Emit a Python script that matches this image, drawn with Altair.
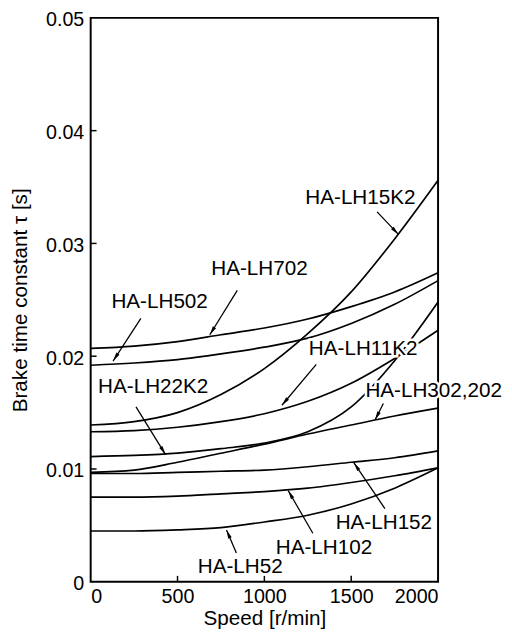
import math
import altair as alt
import pandas as pd

# ---- data ----
speeds = [0, 250, 500, 750, 1000, 1250, 1500, 1750, 2000]
tau_LH52 = [0.0045, 0.0045, 0.0046, 0.0048, 0.0053, 0.0059, 0.0069, 0.0083, 0.0101]
tau_LH102 = [0.0075, 0.0075, 0.0076, 0.0078, 0.0080, 0.0083, 0.0088, 0.0094, 0.0101]
tau_LH152 = [0.0096, 0.0096, 0.0097, 0.0098, 0.0099, 0.0102, 0.0106, 0.0110, 0.0116]
tau_LH302_202 = [0.0097, 0.0099, 0.0106, 0.0114, 0.0122, 0.0131, 0.0139, 0.0147, 0.0154]
tau_LH22K2 = [0.0111, 0.0112, 0.0114, 0.0118, 0.0123, 0.0133, 0.0155, 0.0196, 0.0248]
tau_LH11K2 = [0.0133, 0.0134, 0.0137, 0.0142, 0.0149, 0.0160, 0.0176, 0.0198, 0.0223]
tau_LH15K2 = [0.0139, 0.0142, 0.0150, 0.0166, 0.0189, 0.0220, 0.0257, 0.0304, 0.0356]
tau_LH502 = [0.0192, 0.0194, 0.0197, 0.0202, 0.0208, 0.0216, 0.0229, 0.0246, 0.0267]
tau_LH702 = [0.0207, 0.0209, 0.0213, 0.0219, 0.0225, 0.0233, 0.0244, 0.0257, 0.0274]

series = {
    "HA-LH52": tau_LH52,
    "HA-LH102": tau_LH102,
    "HA-LH152": tau_LH152,
    "HA-LH302,202": tau_LH302_202,
    "HA-LH22K2": tau_LH22K2,
    "HA-LH11K2": tau_LH11K2,
    "HA-LH15K2": tau_LH15K2,
    "HA-LH502": tau_LH502,
    "HA-LH702": tau_LH702,
}

x_ticks = [0, 500, 1000, 1500, 2000]
y_ticks = [0, 0.01, 0.02, 0.03, 0.04, 0.05]

# label annotations: text centre and arrow (start -> tip), in data units
label_names = ["HA-LH15K2", "HA-LH702", "HA-LH502", "HA-LH22K2", "HA-LH11K2",
               "HA-LH302,202", "HA-LH152", "HA-LH102", "HA-LH52"]
label_x = [1553, 972, 397, 360, 1569, 1975, 1688, 1343, 861]
label_y = [0.0340, 0.02775, 0.02478, 0.01723, 0.0206, 0.01689, 0.0052, 0.00301, 0.00127]
arrow_x0 = [1649, 844, 289, 261, 1299, 1685, 1694, 1279, 839]
arrow_y0 = [0.0328, 0.02583, 0.02336, 0.0155, 0.01928, 0.0158, 0.00649, 0.0043, 0.00256]
arrow_x1 = [1772, 686, 129, 431, 1101, 1637, 1515, 1137, 782]
arrow_y1 = [0.0308, 0.0219, 0.01957, 0.01128, 0.01565, 0.01434, 0.01056, 0.00809, 0.0046]

# ---- build tables ----
rows = []
for name, vals in series.items():
    for s, v in zip(speeds, vals):
        rows.append({"model": name, "speed": s, "tau": v})
df = pd.DataFrame(rows)

W, H = 353, 573
XMAX, YMAX = 2000.0, 0.05
HEAD_LEN = 9.0

ann = []
for i, name in enumerate(label_names):
    dxp = (arrow_x1[i] - arrow_x0[i]) * W / XMAX
    dyp = -(arrow_y1[i] - arrow_y0[i]) * H / YMAX
    length = math.hypot(dxp, dyp)
    ang = math.degrees(math.atan2(dxp, -dyp)) % 360
    f = (HEAD_LEN / 2) / length
    ann.append({
        "name": name, "lx": label_x[i], "ly": label_y[i],
        "x0": arrow_x0[i], "y0": arrow_y0[i], "x1": arrow_x1[i], "y1": arrow_y1[i],
        "hx": arrow_x1[i] - f * (arrow_x1[i] - arrow_x0[i]),
        "hy": arrow_y1[i] - f * (arrow_y1[i] - arrow_y0[i]),
        "ang": ang,
    })
ann_df = pd.DataFrame(ann)

FONT = "Liberation Sans"
FS_TICK = 20
FS_TEXT = 21

xs = alt.Scale(domain=[0, 2000], nice=False)
ys = alt.Scale(domain=[0, 0.05], nice=False)
x_axis = alt.Axis(values=x_ticks, format="d", title="Speed [r/min]", labelPadding=5,
                  titleY=26, titleBaseline="top")
y_axis = alt.Axis(values=y_ticks, format="~g", title="Brake time constant τ [s]",
                  labelPadding=7, labelOffset=2, titleX=-71, titleY=H / 2,
                  titleBaseline="middle")


def X(field):
    return alt.X(field, scale=xs, axis=x_axis, title="Speed [r/min]")


def Y(field):
    return alt.Y(field, scale=ys, axis=y_axis, title="Brake time constant τ [s]")


lines = alt.Chart(df).mark_line(color="black", strokeWidth=1.7, interpolate="monotone").encode(
    x=X("speed:Q"), y=Y("tau:Q"), detail="model:N")

xtick_df = pd.DataFrame({"t": x_ticks[1:-1]})
ytick_df = pd.DataFrame({"t": y_ticks[1:-1]})
xt = alt.Chart(xtick_df).mark_rule(color="black", strokeWidth=1.5).encode(
    x=X("t:Q"), y=alt.value(H), y2=alt.value(H - 6))
yt = alt.Chart(ytick_df).mark_rule(color="black", strokeWidth=1.5).encode(
    y=Y("t:Q"), x=alt.value(0), x2=alt.value(6))

shafts = alt.Chart(ann_df).mark_rule(color="black", strokeWidth=1.3).encode(
    x=X("x0:Q"), y=Y("y0:Q"), x2="x1:Q", y2="y1:Q")
heads = alt.Chart(ann_df).mark_point(
    shape="M0,-1L0.42,1L-0.42,1Z", filled=True, color="black", size=HEAD_LEN ** 2, opacity=1
).encode(x=X("hx:Q"), y=Y("hy:Q"), angle=alt.Angle("ang:Q", scale=None))

halo = alt.Chart(ann_df).mark_text(
    font=FONT, fontSize=FS_TEXT, color="white", stroke="white", strokeWidth=5,
    align="center", baseline="middle").encode(x=X("lx:Q"), y=Y("ly:Q"), text="name:N")
texts = alt.Chart(ann_df).mark_text(
    font=FONT, fontSize=FS_TEXT, color="black", align="center", baseline="middle").encode(
    x=X("lx:Q"), y=Y("ly:Q"), text="name:N")

chart = alt.layer(lines, xt, yt, shafts, heads, halo, texts).properties(
    width=W, height=H,
    autosize=alt.AutoSizeParams(type="none"),
    padding={"left": 84, "top": 5, "right": 67, "bottom": 45},
).configure_view(stroke="black", strokeWidth=2).configure_axis(
    grid=False, domain=False, ticks=False, tickSize=0,
    labelFont=FONT, labelFontSize=FS_TICK, labelColor="black",
    titleFont=FONT, titleFontSize=FS_TEXT, titleColor="black", titleFontWeight="normal",
)

chart.save("out.html", embed_options={"renderer": "svg", "actions": False})
